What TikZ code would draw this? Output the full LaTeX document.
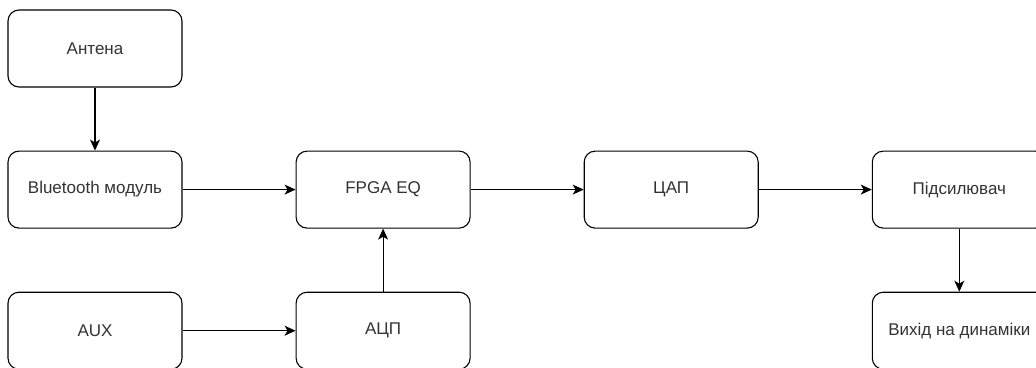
\documentclass[tikz,border=0pt]{standalone}
\usepackage{fontspec}
\setmainfont{Liberation Sans}
\usetikzlibrary{arrows.meta,positioning}
\usepackage{xcolor}
\definecolor{textgrey}{HTML}{333333}

\begin{document}
\begin{tikzpicture}[
  node distance=63pt and 113pt,
  box/.style={draw=black, fill=white, rounded corners=11pt, line width=1.1pt, minimum width=174pt, minimum height=77pt, align=center, font=\fontsize{17pt}{20pt}\selectfont, text=textgrey},
  arr/.style={-{Stealth[length=11pt,width=10pt,inset=3pt]}, black, line width=1.1pt}
]
\useasboundingbox (0,0) rectangle (1036pt,-367pt);
\node[box] (ant) at (95pt,-48.5pt) {Антена};
\node[box, below=of ant] (bt) {Bluetooth модуль};
\node[box, right=of bt] (fpga) {FPGA EQ};
\node[box, right=of fpga] (dac) {ЦАП};
\node[box, right=of dac] (amp) {Підсилювач};

\node[box, below=of bt] (aux) {AUX};
\node[box, below=of fpga] (adc) {АЦП};
\node[box, below=of amp] (out) {Вихід на динаміки};

\draw[arr] (ant)--(bt); \draw[arr] (bt)--(fpga); \draw[arr] (fpga)--(dac);
\draw[arr] (dac)--(amp); \draw[arr] (amp)--(out);
\draw[arr] (aux)--(adc); \draw[arr] (adc)--(fpga);
\end{tikzpicture}
\end{document}
